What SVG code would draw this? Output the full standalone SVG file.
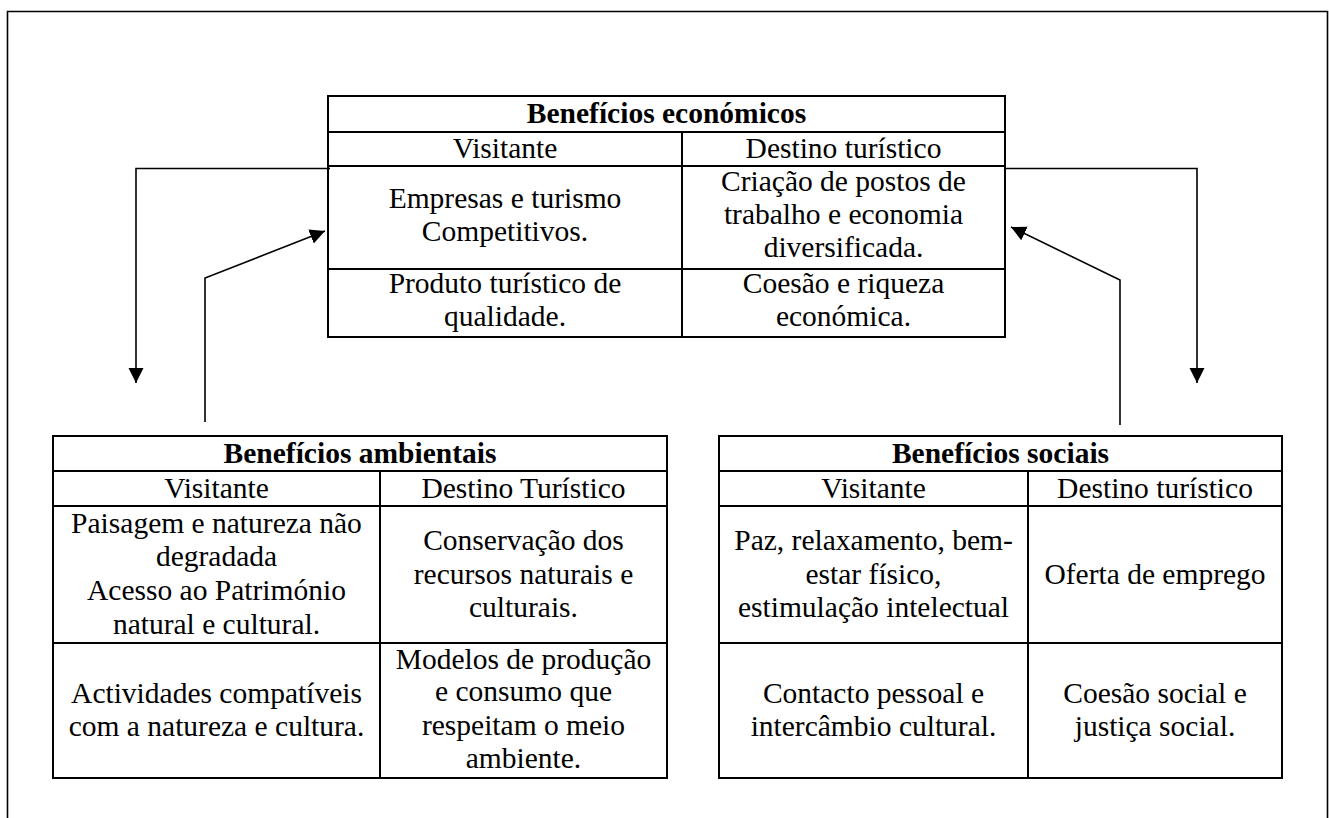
<svg xmlns="http://www.w3.org/2000/svg" width="1329" height="818" viewBox="0 0 1329 818">
<style>
  text { font-family: 'Liberation Serif', 'Times New Roman', 'DejaVu Serif', serif; font-size: 29.5px; fill: #000; text-anchor: middle; }
  .hd { font-weight: bold; }
  .tb { fill: none; stroke: #000; stroke-width: 2; }
  .ln { fill: none; stroke: #000; stroke-width: 2; }
  .cn { fill: none; stroke: #000; stroke-width: 1.6; }
  .frame { fill: none; stroke: #000; stroke-width: 1.6; }
</style>
<defs>
  <marker id="arr" markerUnits="userSpaceOnUse" markerWidth="16" markerHeight="16" viewBox="0 0 16 16" refX="15" refY="8" orient="auto">
    <path d="M0,0.5 L15,8 L0,15.5 z" fill="#000"/>
  </marker>
</defs>
<rect width="1329" height="818" fill="#fff"/>
<path class="frame" d="M7.5,818 L7.5,11.5 L1327.5,11.5 L1327.5,818"/>

<g id="economicos">
  <rect class="tb" x="328" y="96" width="677" height="241"/>
  <path class="ln" d="M328,132 H1005 M328,166 H1005 M328,269 H1005 M682,132 V337"/>
  <text class="hd" x="666.5" y="123">Benefícios económicos</text>
  <text x="505" y="158">Visitante</text>
  <text x="843.5" y="158">Destino turístico</text>
  <text x="505" y="208">Empresas e turismo</text>
  <text x="505" y="241">Competitivos.</text>
  <text x="843.5" y="191">Criação de postos de</text>
  <text x="843.5" y="224">trabalho e economia</text>
  <text x="843.5" y="257">diversificada.</text>
  <text x="505" y="293">Produto turístico de</text>
  <text x="505" y="326">qualidade.</text>
  <text x="843.5" y="293">Coesão e riqueza</text>
  <text x="843.5" y="326">económica.</text>
</g>

<g id="ambientais">
  <rect class="tb" x="53" y="436" width="614" height="342"/>
  <path class="ln" d="M53,471 H667 M53,506 H667 M53,643 H667 M380,471 V778"/>
  <text class="hd" x="360" y="463">Benefícios ambientais</text>
  <text x="216.5" y="498">Visitante</text>
  <text x="523.5" y="498">Destino Turístico</text>
  <text x="216.5" y="533">Paisagem e natureza não</text>
  <text x="216.5" y="566">degradada</text>
  <text x="216.5" y="600">Acesso ao Património</text>
  <text x="216.5" y="634">natural e cultural.</text>
  <text x="523.5" y="550">Conservação dos</text>
  <text x="523.5" y="584">recursos naturais e</text>
  <text x="523.5" y="617">culturais.</text>
  <text x="216.5" y="703">Actividades compatíveis</text>
  <text x="216.5" y="736">com a natureza e cultura.</text>
  <text x="523.5" y="669">Modelos de produção</text>
  <text x="523.5" y="701">e consumo que</text>
  <text x="523.5" y="735">respeitam o meio</text>
  <text x="523.5" y="768">ambiente.</text>
</g>

<g id="sociais">
  <rect class="tb" x="719" y="436" width="563" height="342"/>
  <path class="ln" d="M719,471 H1282 M719,506 H1282 M719,643 H1282 M1028,471 V778"/>
  <text class="hd" x="1000.5" y="463">Benefícios sociais</text>
  <text x="873.5" y="498">Visitante</text>
  <text x="1155" y="498">Destino turístico</text>
  <text x="873.5" y="550">Paz, relaxamento, bem-</text>
  <text x="873.5" y="584">estar físico,</text>
  <text x="873.5" y="617">estimulação intelectual</text>
  <text x="1155" y="584">Oferta de emprego</text>
  <text x="873.5" y="703">Contacto pessoal e</text>
  <text x="873.5" y="736">intercâmbio cultural.</text>
  <text x="1155" y="703">Coesão social e</text>
  <text x="1155" y="736">justiça social.</text>
</g>

<g id="connectors">
  <path class="cn" d="M330,168.5 H136 V383" marker-end="url(#arr)"/>
  <path class="cn" d="M1005,168.5 H1197 V383" marker-end="url(#arr)"/>
  <path class="cn" d="M205,422 V278 L325,231" marker-end="url(#arr)"/>
  <path class="cn" d="M1120,425 V280 L1011,227" marker-end="url(#arr)"/>
</g>
</svg>
